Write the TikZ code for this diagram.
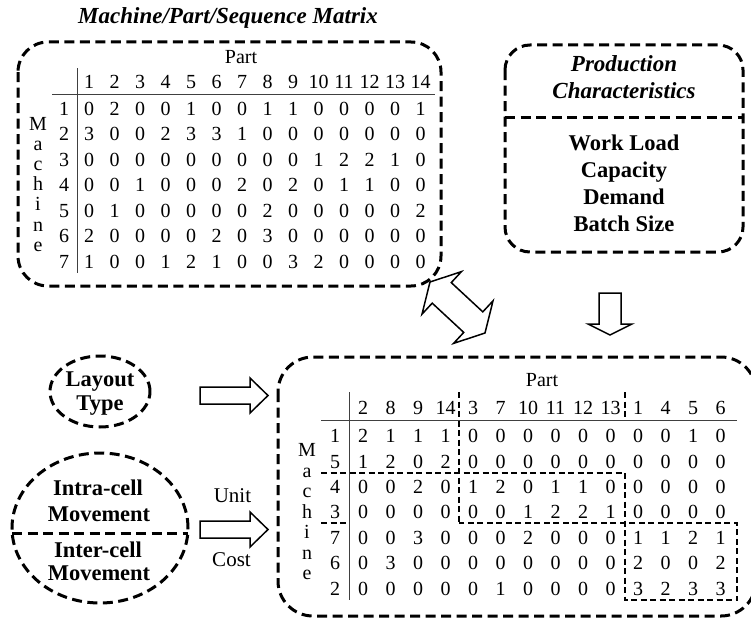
\documentclass[tikz,border=0pt]{standalone}
\usepackage{fontspec}
\setmainfont{Liberation Serif}
\begin{document}
\begin{tikzpicture}[x=1pt,y=-1pt,
  bigdash/.style={draw, line width=3pt, dash pattern=on 10pt off 5.5pt},
  thindash/.style={draw, line width=1.6pt, dash pattern=on 6pt off 3.5pt},
  rule/.style={draw, line width=0.9pt, black!75},
  blockarrow/.style={draw, line width=1.5pt, line join=miter, fill=white},
  mtxt/.style={anchor=base, inner sep=0pt, font=\fontsize{20}{20}\selectfont},
  lbl/.style={anchor=base, inner sep=0pt, font=\fontsize{22.5}{22.5}\selectfont\bfseries},
  ttl/.style={anchor=base, inner sep=0pt, font=\fontsize{23}{23}\selectfont\bfseries\itshape},
  plain/.style={anchor=base, inner sep=0pt, font=\fontsize{21}{21}\selectfont}]
\useasboundingbox (0,0) rectangle (751,618);

% ---------- title ----------
\node[ttl] (title) at (228,24) {Machine/Part/Sequence Matrix};

% ---------- top-left matrix box ----------
\draw[bigdash, rounded corners=30pt] (18,42) rectangle (441,286);
\node[mtxt] (toppart) at (241,63.3) {Part};
\foreach \c [count=\i] in {1,2,3,4,5,6,7,8,9,10,11,12,13,14}
  \node[mtxt] (th-\i) at ({89+25.5*(\i-1)},88.3) {\c};
\foreach \row [count=\j] in {
  {0,2,0,0,1,0,0,1,1,0,0,0,0,1},
  {3,0,0,2,3,3,1,0,0,0,0,0,0,0},
  {0,0,0,0,0,0,0,0,0,1,2,2,1,0},
  {0,0,1,0,0,0,2,0,2,0,1,1,0,0},
  {0,1,0,0,0,0,0,2,0,0,0,0,0,2},
  {2,0,0,0,0,2,0,3,0,0,0,0,0,0},
  {1,0,0,1,2,1,0,0,3,2,0,0,0,0}} {
  \node[mtxt] (tr-\j) at (64,{115+25.5*(\j-1)}) {\j};
  \foreach \v [count=\i] in \row
    \node[mtxt] (t-\j-\i) at ({89+25.5*(\i-1)},{115+25.5*(\j-1)}) {\v};
}
\foreach \l [count=\k] in {M,a,c,h,i,n,e}
  \node[mtxt] (tm-\k) at (38,{130+20.2*(\k-1)}) {\l};
\draw[rule] (52,94) -- (435,94);
\draw[rule] (77,68) -- (77,273);

% ---------- production characteristics ----------
\draw[bigdash, rounded corners=25pt] (505,45) rectangle (743,252);
\draw[bigdash] (505,117) -- (743,117);
\node[ttl] (prod1) at (624,71.7) {Production};
\node[ttl] (prod2) at (624,98) {Characteristics};
\node[lbl] (pc1) at (624,150) {Work Load};
\node[lbl] (pc2) at (624,177) {Capacity};
\node[lbl] (pc3) at (624,204.5) {Demand};
\node[lbl] (pc4) at (624,231.5) {Batch Size};

% ---------- double arrow ----------
\draw[blockarrow] (430,282) -- (461.45,271.6) -- (451.25,282.6) -- (482.8,311.85)
  -- (493,300.85) -- (485,333) -- (453.55,343.4) -- (463.75,332.4)
  -- (432.2,303.15) -- (422,314.15) -- cycle;

% ---------- down arrow ----------
\draw[blockarrow] (599,293) -- (621,293) -- (621,324) -- (632,324) -- (610,335)
  -- (588,324) -- (599,324) -- cycle;

% ---------- left ellipses ----------
\draw[bigdash] (100,391.5) ellipse [x radius=50pt, y radius=35.5pt];
\node[lbl] (lay1) at (100,386.7) {Layout};
\node[lbl] (lay2) at (100,410) {Type};

\draw[bigdash] (100,528) ellipse [x radius=88pt, y radius=75pt];
\draw[bigdash] (12.2,533) -- (187.8,533);
\node[lbl] (mv1) at (98,495) {Intra-cell};
\node[lbl] (mv2) at (99,521.7) {Movement};
\node[lbl] (mv3) at (98,557.3) {Inter-cell};
\node[lbl] (mv4) at (99,580) {Movement};

% ---------- right arrows ----------
\foreach \cy in {395.5,529.5}
  \draw[blockarrow] (200,{\cy-8.5}) -- (250,{\cy-8.5}) -- (250,{\cy-17.5}) -- (268,\cy)
    -- (250,{\cy+17.5}) -- (250,{\cy+8.5}) -- (200,{\cy+8.5}) -- cycle;
\node[plain] (unit) at (232.5,502.3) {Unit};
\node[plain] (cost) at (231.5,566.7) {Cost};

% ---------- bottom matrix box ----------
\draw[bigdash, rounded corners=35pt] (278,357) rectangle (756,616);
\node[mtxt] (botpart) at (542,386) {Part};
\foreach \c [count=\i] in {2,8,9,14,3,7,10,11,12,13,1,4,5,6}
  \node[mtxt] (bh-\i) at ({363+27.5*(\i-1)},414) {\c};
\foreach \r/\row [count=\j] in {
  1/{2,1,1,1,0,0,0,0,0,0,0,0,1,0},
  5/{1,2,0,2,0,0,0,0,0,0,0,0,0,0},
  4/{0,0,2,0,1,2,0,1,1,0,0,0,0,0},
  3/{0,0,0,0,0,0,1,2,2,1,0,0,0,0},
  7/{0,0,3,0,0,0,2,0,0,0,1,1,2,1},
  6/{0,3,0,0,0,0,0,0,0,0,2,0,0,2},
  2/{0,0,0,0,0,1,0,0,0,0,3,2,3,3}} {
  \node[mtxt] (br-\j) at (335,{442.7+25.4*(\j-1)}) {\r};
  \foreach \v [count=\i] in \row
    \node[mtxt] (b-\j-\i) at ({363+27.5*(\i-1)},{442.7+25.4*(\j-1)}) {\v};
}
\foreach \l [count=\k] in {M,a,c,h,i,n,e}
  \node[mtxt] (bm-\k) at (307,{456.7+20.5*(\k-1)}) {\l};
\draw[rule] (321,420) -- (737,420);
\draw[rule] (349,392) -- (349,600);

% ---------- cell partitions ----------
\draw[thindash] (459,392) -- (459,523);
\draw[thindash] (321,473) -- (625,473);
\draw[thindash] (625,392) -- (625,420);
\draw[thindash] (625,473) -- (625,600) -- (737,600) -- (737,523) -- (459,523);
\draw[thindash] (321,523) -- (349,523);
\end{tikzpicture}
\end{document}
